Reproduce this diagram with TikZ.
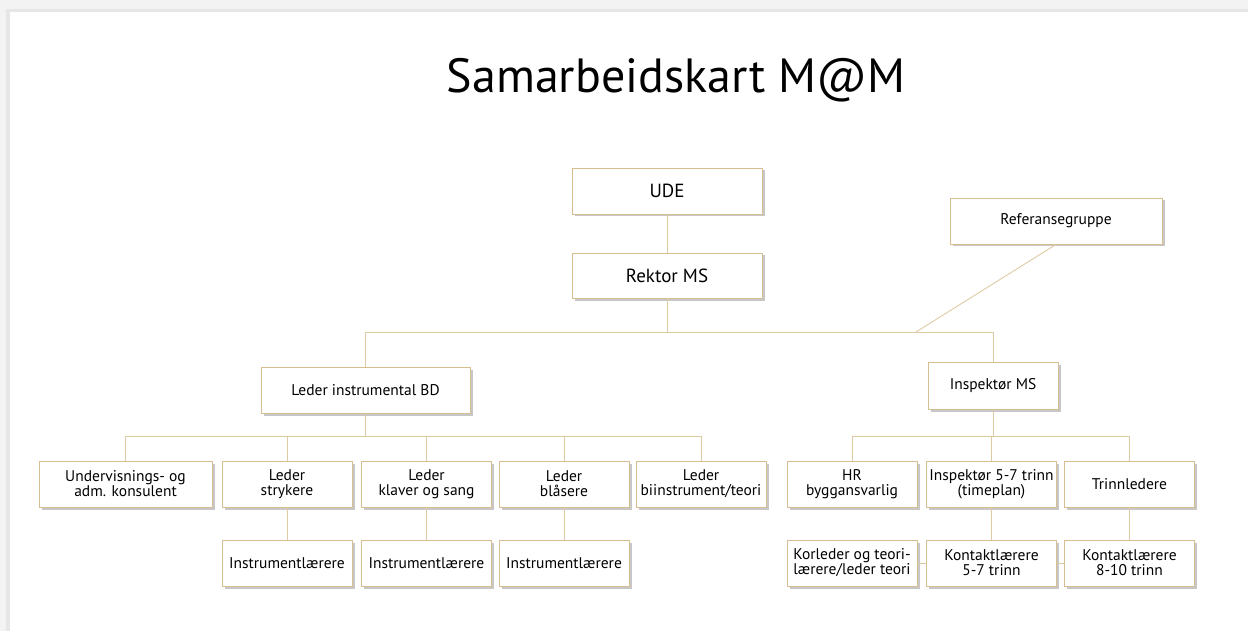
\documentclass[tikz,border=0pt]{standalone}
\usepackage{fontspec}
\setmainfont{PT Sans}
\usetikzlibrary{shadows}
\definecolor{boxline}{RGB}{214,190,145}
\definecolor{conline}{RGB}{222,202,162}
\definecolor{frameA}{RGB}{243,243,243}
\definecolor{frameB}{RGB}{230,230,230}
\tikzset{
  box/.style={draw=boxline, line width=0.9pt, fill=white, inner sep=0pt,
    align=center, font=\fontsize{15.5}{15}\selectfont,
    drop shadow={shadow xshift=2.5pt, shadow yshift=-2.5pt, opacity=0.22, fill=black}},
  bigbox/.style={box, font=\fontsize{19}{19}\selectfont},
  con/.style={draw=conline, line width=0.9pt}
}
\begin{document}
\begin{tikzpicture}[x=1pt,y=-1pt]
\useasboundingbox (0,0) rectangle (1248,631);
% page frame
\fill[frameA] (0,0) rectangle (1248,12);
\fill[frameA] (0,0) rectangle (10,631);
\fill[frameB] (10,9) rectangle (1248,12);
\fill[frameB] (6,9) rectangle (10,631);
% title
\node[anchor=base, font=\fontsize{48}{48}\selectfont] (title) at (676,93) {Samarbeidskart M@M};
% top level
\node[bigbox, minimum width=190pt, minimum height=46pt] (ude) at (667,191) {UDE};
\node[bigbox, minimum width=190pt, minimum height=45pt] (rektor) at (667,275.5) {Rektor MS};
\node[box, minimum width=212pt, minimum height=46pt] (ref) at (1056,221) {Referansegruppe};
\node[box, minimum width=209pt, minimum height=46pt] (ledbd) at (365.5,390) {Leder instrumental BD};
\node[box, minimum width=130pt, minimum height=47pt] (insp) at (993,385.5) {Inspektør MS};
% row 2
\tikzset{rowtwo/.style={box, minimum width=130pt, minimum height=46pt}}
\node[rowtwo, minimum width=173pt] (und) at (125.5,484) {Undervisnings- og\\adm. konsulent};
\node[rowtwo] (str) at (287,484) {Leder\\strykere};
\node[rowtwo] (kla) at (426.5,484) {Leder\\klaver og sang};
\node[rowtwo] (bla) at (564,484) {Leder\\blåsere};
\node[rowtwo] (bii) at (701,484) {Leder\\biinstrument/teori};
\node[rowtwo] (hr) at (852,484) {HR\\byggansvarlig};
\node[rowtwo] (i57) at (991.5,484) {Inspektør 5-7 trinn\\(timeplan)};
\node[rowtwo] (trl) at (1129.5,484) {Trinnledere};
% row 3
\node[rowtwo] (ins1) at (287,563) {Instrumentlærere};
\node[rowtwo] (ins2) at (426.5,563) {Instrumentlærere};
\node[rowtwo] (ins3) at (564,563) {Instrumentlærere};
\node[rowtwo] (kor) at (852,563) {Korleder og teori-\\lærere/leder teori};
\node[rowtwo] (k57) at (991.5,563) {Kontaktlærere\\5-7 trinn};
\node[rowtwo] (k810) at (1129.5,563) {Kontaktlærere\\8-10 trinn};
% bus coordinates
\coordinate (busA) at (0,332);
\coordinate (busB) at (0,436);
\coordinate (refj) at (916,332);
% connectors
\draw[con] (ude.south) -- (rektor.north);
\draw[con] (rektor.south) -- (rektor.south |- busA);
\draw[con] (ledbd.north) -- (ledbd.north |- busA) -- (insp.north |- busA) -- (insp.north);
\draw[con] (ref.south) -- (refj);
\draw[con] (ledbd.south) -- (ledbd.south |- busB);
\draw[con] (und.north) -- (und.north |- busB) -- (bii.north |- busB) -- (bii.north);
\draw[con] (str.north) -- (str.north |- busB);
\draw[con] (kla.north) -- (kla.north |- busB);
\draw[con] (bla.north) -- (bla.north |- busB);
\draw[con] (insp.south) -- (insp.south |- busB);
\draw[con] (hr.north) -- (hr.north |- busB) -- (trl.north |- busB) -- (trl.north);
\draw[con] (i57.north) -- (i57.north |- busB);
\draw[con] (str.south) -- (ins1.north);
\draw[con] (kla.south) -- (ins2.north);
\draw[con] (bla.south) -- (ins3.north);
\draw[con] (i57.south) -- (k57.north);
\draw[con] (trl.south) -- (k810.north);
\draw[con] (kor.east) -- (k57.west);
\draw[con] (k57.east) -- (k810.west);
\end{tikzpicture}
\end{document}
